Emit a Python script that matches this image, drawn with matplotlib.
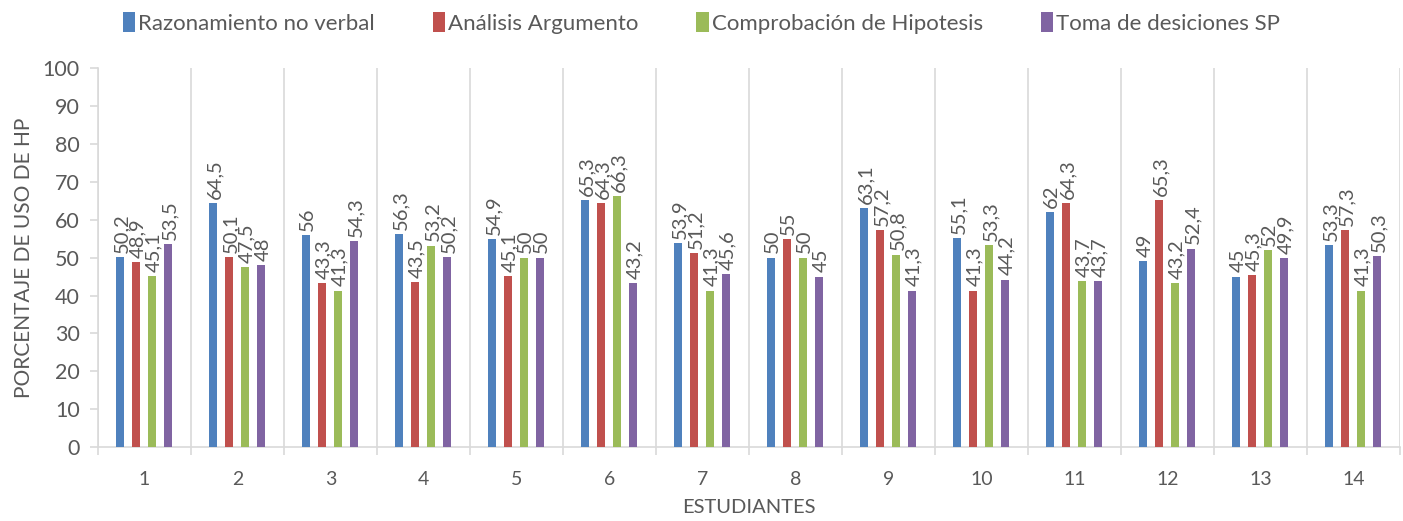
import numpy as np
import matplotlib.pyplot as plt

plt.rcParams['font.family'] = ['Lato', 'DejaVu Sans']

estudiantes = [str(i) for i in range(1, 15)]
series_names = ["Razonamiento no verbal", "Análisis Argumento",
                "Comprobación de Hipotesis", "Toma de desiciones SP"]
razonamiento = [50.2, 64.5, 56, 56.3, 54.9, 65.3, 53.9, 50, 63.1, 55.1, 62, 49, 45, 53.3]
analisis = [48.9, 50.1, 43.3, 43.5, 45.1, 64.3, 51.2, 55, 57.2, 41.3, 64.3, 65.3, 45.3, 57.3]
comprobacion = [45.1, 47.5, 41.3, 53.2, 50, 66.3, 41.3, 50, 50.8, 53.3, 43.7, 43.2, 52, 41.3]
toma = [53.5, 48, 54.3, 50.2, 50, 43.2, 45.6, 45, 41.3, 44.2, 43.7, 52.4, 49.9, 50.3]

colors = ["#4F81BD", "#C0504D", "#9BBB59", "#8064A2"]
text_grey = "#595959"
grid_grey = "#D9D9D9"


def fmt(v):
    s = f"{v:g}"
    return s.replace(".", ",")


fig = plt.figure(figsize=(14.03, 5.21), dpi=100)
ax = fig.add_axes([0.0698, 0.142, 0.928, 0.727])

x = np.arange(len(estudiantes))
width = 0.086
step = 0.172
all_series = [razonamiento, analisis, comprobacion, toma]
for i, (name, vals, c) in enumerate(zip(series_names, all_series, colors)):
    pos = x + (i - 1.5) * step
    bars = ax.bar(pos, vals, width, color=c, label=name, zorder=3)
    for b, v in zip(bars, vals):
        ax.annotate(fmt(v), (b.get_x() + b.get_width() / 2, v),
                    xytext=(1, 3), textcoords="offset points",
                    rotation=90, ha="center", va="bottom",
                    fontsize=14.5, color=text_grey, zorder=4)

ax.set_xlim(-0.5, len(estudiantes) - 0.5)
ax.set_ylim(0, 100)
ax.set_yticks(range(0, 101, 10))

# category boundaries carry the gridlines and tick marks
bounds = np.arange(len(estudiantes) + 1) - 0.5
ax.set_xticks(bounds)
ax.set_xticklabels([])
ax.set_xticks(x, minor=True)
ax.set_xticklabels(estudiantes, minor=True)
ax.tick_params(axis="x", which="major", length=6, color=grid_grey, width=1.2)
ax.tick_params(axis="x", which="minor", length=0, pad=17, labelsize=14,
               labelcolor=text_grey)
ax.tick_params(axis="y", length=6, color=grid_grey, width=1.2, pad=7,
               labelsize=15.5, labelcolor=text_grey)
ax.grid(axis="x", which="major", color=grid_grey, linewidth=1.2, zorder=0)

for side in ["top", "right"]:
    ax.spines[side].set_visible(False)
for side in ["left", "bottom"]:
    ax.spines[side].set_color(grid_grey)
    ax.spines[side].set_linewidth(1.2)

ax.set_xlabel("ESTUDIANTES", fontsize=14.5, color=text_grey, labelpad=8)
ax.set_ylabel("PORCENTAJE DE USO DE HP", fontsize=15, color=text_grey, labelpad=6)

fig.legend(loc="upper center", bbox_to_anchor=(0.5, 1.015), ncol=4, frameon=False,
           fontsize=16, labelcolor=text_grey, handlelength=0.55, handleheight=1.0,
           handletextpad=0.15, columnspacing=2.6)

fig.savefig("out.png", dpi=100)
plt.close(fig)
